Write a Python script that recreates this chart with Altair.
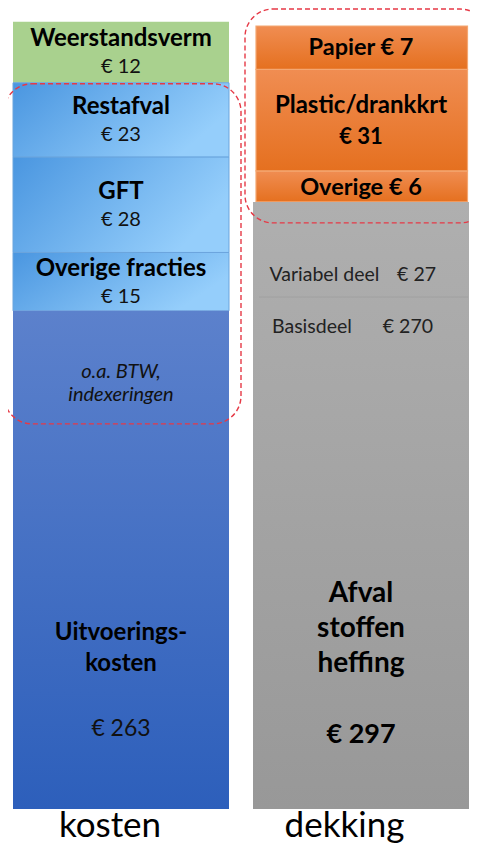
import altair as alt
import pandas as pd

# ---------------- data ----------------
balken = ["kosten", "dekking"]

kosten_posten = ["Weerstandsverm", "Restafval", "GFT", "Overige fracties", "Uitvoeringskosten"]
kosten_titels = ["Weerstandsverm", "Restafval", "GFT", "Overige fracties", "Uitvoerings-\nkosten"]
kosten_bedrag = [12, 23, 28, 15, 263]
# drawn height of each block (the infographic is not drawn to scale)
kosten_hoogte = [26.4, 32.1, 41.4, 25.3, 215.8]

dekking_posten = ["Papier", "Plastic/drankkrt", "Overige", "Afvalstoffenheffing"]
dekking_titels = ["Papier", "Plastic/drankkrt", "Overige", "Afval\nstoffen\nheffing"]
dekking_bedrag = [7, 31, 6, 297]
dekking_hoogte = [18.8, 44.0, 13.4, 263.0]

heffing_delen = ["Variabel deel", "Basisdeel"]
heffing_bedrag = [27, 270]
heffing_hoogte = [41.2, 221.8]

notitie = "o.a. BTW,\nindexeringen"

kader_kosten = ["Restafval", "GFT", "Overige fracties"]
kader_dekking = ["Papier", "Plastic/drankkrt", "Overige"]


def stapel(balk, posten, titels, bedragen, hoogtes):
    rows = []
    y = 0.0
    for p, t, b, h in reversed(list(zip(posten, titels, bedragen, hoogtes))):
        rows.append(dict(balk=balk, post=p, titel=t, bedrag=b, y0=y, y1=y + h,
                         mid=y + h / 2, euro=f"€ {b}", samen=f"{t} € {b}"))
        y += h
    return rows


df = pd.DataFrame(stapel("kosten", kosten_posten, kosten_titels, kosten_bedrag, kosten_hoogte)
                  + stapel("dekking", dekking_posten, dekking_titels, dekking_bedrag, dekking_hoogte))
df.loc[df.post == "Uitvoeringskosten", "notitie"] = notitie
dfh = pd.DataFrame(stapel("dekking", heffing_delen, heffing_delen, heffing_bedrag, heffing_hoogte))


def kader(balk, posten):
    sub = df[df.post.isin(posten)]
    return dict(balk=balk, top=sub.y1.max(), bottom=sub.y0.min())


kaders = pd.DataFrame([kader("kosten", kader_kosten), kader("dekking", kader_dekking)])
df_balk = pd.DataFrame({"balk": balken})

# ---------------- scales ----------------
FONT = "Lato"
X = alt.Scale(domain=balken, range=[5, 461], paddingInner=0.1, paddingOuter=0)
Y = alt.Scale(domain=[0, 347], range=[801, 0])
xenc = alt.X("balk:N", scale=X, axis=None)
xl = alt.X("balk:N", bandPosition=0, scale=X, axis=None)
xr = alt.X2("balk", bandPosition=1)


def grad(c0, c1, x1=0, y1=0, x2=0, y2=1):
    return alt.LinearGradient(gradient="linear", x1=x1, y1=y1, x2=x2, y2=y2,
                              stops=[alt.GradientStop(offset=0, color=c0),
                                     alt.GradientStop(offset=1, color=c1)])


def blok(posten, **mark):
    return (alt.Chart(df)
            .transform_filter(alt.FieldOneOfPredicate(field="post", oneOf=posten))
            .mark_rect(**mark)
            .encode(x=xl, x2=xr, y=alt.Y("y1:Q", scale=Y, axis=None), y2="y0:Q"))


groen = blok(["Weerstandsverm"], fill="#A9D18E")
blauw = blok(["Restafval", "GFT", "Overige fracties"],
             fill=grad("#4A96E0", "#95CEFB", 0, 0, 1, 0.4), stroke="#6BA5DD", strokeWidth=1)
uitv = blok(["Uitvoeringskosten"], fill=grad("#5C81CC", "#2D5FBB"))
oranje = blok(["Papier", "Plastic/drankkrt", "Overige"],
              fill=grad("#F08D52", "#E5701F"), stroke="#F4A772", strokeWidth=1.2,
              xOffset=3, x2Offset=-1.5)
grijs = blok(["Afvalstoffenheffing"], fill=grad("#AFAFAF", "#989898"))

lijn = (alt.Chart(dfh)
        .transform_filter(alt.datum.post == "Variabel deel")
        .mark_rule(color="#A0A0A0", strokeWidth=1, xOffset=6, x2Offset=-1)
        .encode(x=xl, x2=xr, y=alt.Y("y0:Q", scale=Y, axis=None)))


def stippel(balk, **off):
    return (alt.Chart(kaders)
            .transform_filter(alt.datum.balk == balk)
            .mark_rect(cornerRadius=28, fillOpacity=0, stroke="#E63946", strokeWidth=1.4,
                       strokeDash=[5, 3], **off)
            .encode(x=xl, x2=xr, y=alt.Y("top:Q", scale=Y, axis=None), y2="bottom:Q"))


kader_l = stippel("kosten", xOffset=-9, x2Offset=12, yOffset=1, y2Offset=113)
kader_r = stippel("dekking", xOffset=-8, x2Offset=19, yOffset=-17, y2Offset=21)


def tekst(data, posten, veld, yveld, dy=0, size=17, weight="normal", style="normal",
          align="center", dx=0, lh=None, color="#111111"):
    mk = dict(font=FONT, fontSize=size, fontWeight=weight, fontStyle=style, align=align,
              baseline="middle", dx=dx, dy=dy, color=color, lineBreak="\n")
    if lh:
        mk["lineHeight"] = lh
    return (alt.Chart(data)
            .transform_filter(alt.FieldOneOfPredicate(field="post", oneOf=posten))
            .mark_text(**mk)
            .encode(x=xenc, y=alt.Y(f"{yveld}:Q", scale=Y, axis=None), text=f"{veld}:N"))


links4 = ["Weerstandsverm", "Restafval", "GFT", "Overige fracties"]
teksten = [
    tekst(df, links4, "titel", "mid", dy=-13, size=24, weight="bold", color="#000000"),
    tekst(df, links4, "euro", "mid", dy=15, size=20),
    tekst(df, ["Plastic/drankkrt"], "titel", "mid", dy=-14, size=24, weight="bold", color="#000000"),
    tekst(df, ["Plastic/drankkrt"], "euro", "mid", dy=17, size=22, weight="bold", color="#000000"),
    tekst(df, ["Papier"], "samen", "mid", dy=0.5, size=23.5, weight="bold", color="#000000"),
    tekst(df, ["Overige"], "samen", "mid", dy=2, size=23.5, weight="bold", color="#000000"),
    tekst(df, ["Uitvoeringskosten"], "notitie", "y1", dy=61, size=20, style="italic", lh=23),
    tekst(df, ["Uitvoeringskosten"], "titel", "y0", dy=-176, size=24, weight="bold", lh=31,
          color="#000000"),
    tekst(df, ["Uitvoeringskosten"], "euro", "y0", dy=-80, size=23),
    tekst(df, ["Afvalstoffenheffing"], "titel", "y0", dy=-215, size=28, weight="bold", lh=35,
          color="#000000"),
    tekst(df, ["Afvalstoffenheffing"], "euro", "y0", dy=-74, size=27, weight="bold", color="#000000"),
    tekst(dfh, ["Variabel deel"], "titel", "y0", dy=-22, size=19.5, align="left", dx=-91.5,
          color="#222222"),
    tekst(dfh, ["Variabel deel"], "euro", "y0", dy=-22, size=19.5, align="right", dx=75,
          color="#222222"),
    tekst(dfh, ["Basisdeel"], "titel", "y1", dy=30, size=19.5, align="left", dx=-89, color="#222222"),
    tekst(dfh, ["Basisdeel"], "euro", "y1", dy=30, size=19.5, align="right", dx=72, color="#222222"),
]


def onder(balk, dx):
    return (alt.Chart(df_balk)
            .transform_filter(alt.datum.balk == balk)
            .mark_text(font=FONT, fontSize=35, baseline="alphabetic", dx=dx, dy=28, color="#000000")
            .encode(x=xenc, y=alt.YDatum(0, scale=Y), text="balk:N"))


chart = (alt.layer(groen, blauw, uitv, oranje, grijs, lijn, kader_l, kader_r, *teksten,
                   onder("kosten", -11), onder("dekking", -16.5))
         .properties(width=463, height=836, autosize=alt.AutoSizeParams(type="none"),
                     padding=0, background="white")
         .configure_view(stroke=None))

chart.save("out.html", embed_options={"renderer": "svg", "actions": False})
